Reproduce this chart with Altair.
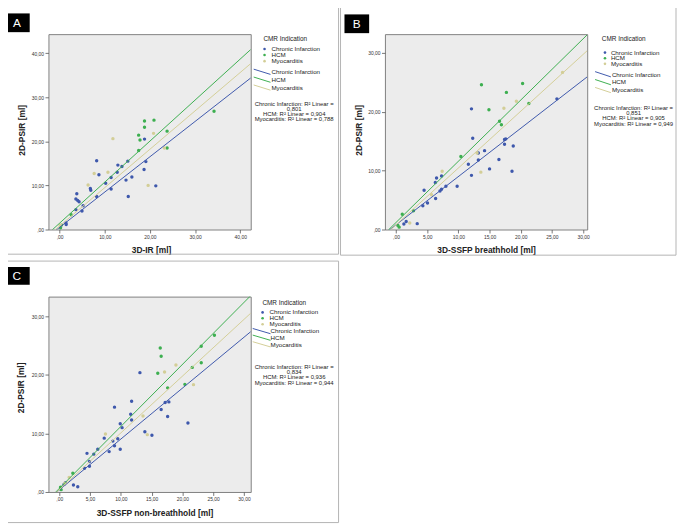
import altair as alt
import pandas as pd

FONT = "Liberation Sans"
GROUPS = ["Chronic Infarction", "HCM", "Myocarditis"]
COLORS = ["#3E58AC", "#3DAF50", "#D3CE97"]

# ---------------- Panel A : 3D-IR ----------------
a_ci_x = [8.2, 8.7, 12.9, 13.8, 15.1, 18.8, 19.1, 18.7, 21.3, 16.0, 14.7, 15.2, 12.75, 11.4, 11.4,
          10.2, 8.2, 6.8, 6.9, 3.8, 3.6, 4.0, 4.3, 4.95, 5.2, 3.6, 1.4, 1.45]
a_ci_y = [15.6, 12.4, 14.6, 14.3, 15.5, 20.5, 15.4, 13.6, 9.9, 11.9, 11.2, 7.5, 13.0, 11.8, 9.2,
          10.5, 7.5, 9.3, 8.9, 8.1, 6.9, 6.6, 6.3, 4.2, 5.4, 4.5, 1.5, 1.15]
a_hcm_x = [18.8, 20.9, 18.8, 17.5, 17.8, 17.5, 23.8, 23.8, 34.2, 2.55, 0.4, 0.2]
a_hcm_y = [24.6, 24.8, 23.2, 21.4, 20.3, 17.9, 22.3, 18.5, 26.8, 3.35, 1.0, 0.4]
a_myo_x = [11.8, 20.8, 7.65, 10.7, 6.3, 19.6, 23.2, 0.1]
a_myo_y = [20.6, 21.8, 12.7, 13.0, 10.1, 10.0, 18.5, 1.0]
a_slope = [0.80, 0.93, 0.87]
a_inter = [0.5, 1.45, 0.8]
a_r2 = ["0,801", "0,904", "0,788"]

# ---------------- Panel B : 3D-SSFP breathhold ----------------
b_ci_x = [12.1, 12.3, 14.2, 13.2, 13.2, 11.6, 12.1, 15.0, 16.5, 17.4, 17.6, 17.4, 18.8, 18.6, 25.8,
          9.8, 8.0, 7.3, 7.05, 7.3, 6.5, 6.3, 6.35, 5.05, 4.3, 4.5, 3.4, 1.63, 1.26]
b_ci_y = [20.5, 15.5, 13.4, 13.0, 11.8, 11.1, 9.2, 10.3, 11.9, 15.3, 15.4, 14.5, 14.2, 9.9, 22.2,
          7.35, 7.35, 6.85, 6.55, 9.1, 8.75, 8.0, 5.27, 4.5, 4.05, 6.67, 1.0, 1.35, 0.95]
b_hcm_x = [13.7, 17.7, 14.9, 16.6, 16.9, 10.4, 20.3, 21.3, 2.8, 1.0, 0.5, 0.3]
b_hcm_y = [24.6, 23.3, 20.35, 18.4, 17.8, 12.4, 24.8, 21.4, 3.2, 2.6, 0.4, 0.7]
b_myo_x = [17.3, 19.3, 13.6, 7.4, 13.0, 5.7, 26.7, 2.2]
b_myo_y = [20.6, 21.8, 9.75, 9.9, 13.0, 5.9, 26.7, 1.1]
b_slope = [0.82, 1.04, 0.965]
b_inter = [0.8, 1.2, 0.8]
b_r2 = ["0,851", "0,905", "0,949"]

# ---------------- Panel C : 3D-SSFP non-breathhold ----------------
c_ci_x = [13.1, 8.97, 11.75, 11.6, 11.75, 9.9, 10.2, 13.9, 15.05, 16.55, 17.2, 17.8, 17.6, 20.9,
          7.3, 8.7, 9.5, 8.97, 8.1, 9.9, 6.25, 5.6, 4.5, 4.9, 4.9, 4.1, 2.3, 3.0, 1.0, 0.76]
c_ci_y = [20.4, 14.5, 15.5, 13.3, 12.3, 11.65, 11.0, 10.3, 9.7, 14.1, 15.3, 15.4, 12.9, 11.8,
          9.2, 8.7, 9.1, 7.9, 6.9, 7.3, 7.3, 6.47, 6.6, 5.2, 4.4, 4.05, 1.2, 0.9, 1.6, 1.3]
c_hcm_x = [16.4, 16.55, 16.0, 17.6, 23.06, 23.06, 21.6, 25.2, 20.4, 2.2, 0.3, 0.2]
c_hcm_y = [24.6, 23.2, 20.3, 17.8, 24.9, 22.1, 21.3, 26.8, 18.4, 3.2, 0.4, 0.8]
c_myo_x = [17.1, 18.95, 21.8, 13.6, 14.3, 7.5, 1.6, 0.9]
c_myo_y = [20.5, 21.7, 18.35, 13.0, 9.8, 9.9, 2.5, 1.5]
c_slope = [0.87, 1.06, 0.97]
c_inter = [0.35, 0.6, 0.4]
c_r2 = ["0,834", "0,936", "0,944"]

W, H = 205, 198
DUMMY = pd.DataFrame({"k": [0]})
LEXPR = "datum.value == 0 ? ',00' : replace(format(datum.value, '.2f'), '.', ',')"


def pts_df(cx, cy, hx, hy, mx, my):
    rows = []
    for g, xs, ys in zip(GROUPS, (cx, hx, mx), (cy, hy, my)):
        rows += [{"x": x, "y": y, "group": g} for x, y in zip(xs, ys)]
    return pd.DataFrame(rows)


def fit_df(slopes, inters, xdom):
    rows = []
    for g, b, a in zip(GROUPS, slopes, inters):
        for x in xdom:
            rows.append({"x": x, "y": a + b * x, "group": g})
    return pd.DataFrame(rows)


def txt(s, x, y, size, align="left", color="#222222", weight="normal"):
    return alt.Chart(DUMMY).mark_text(
        text=s, align=align, baseline="middle", fontSize=size, color=color,
        fontWeight=weight, font=FONT
    ).encode(x=alt.value(x), y=alt.value(y))


def rect(x, x2, y, y2, **kw):
    return alt.Chart(DUMMY).mark_rect(**kw).encode(
        x=alt.value(x), x2=alt.value(x2), y=alt.value(y), y2=alt.value(y2))


def dot(x, y, color):
    return alt.Chart(DUMMY).mark_circle(size=7, color=color, opacity=1).encode(
        x=alt.value(x), y=alt.value(y))


def seg(x1, y1, x2, y2, color):
    return alt.Chart(DUMMY).mark_rule(color=color, strokeWidth=1).encode(
        x=alt.value(x1), y=alt.value(y1), x2=alt.value(x2), y2=alt.value(y2))


def make_axis(title, values, tx, ty):
    return alt.Axis(
        title=title, values=values, grid=False, domain=False, labelExpr=LEXPR,
        labelFontSize=5, labelColor="#333333", labelFont=FONT, labelOverlap=False,
        labelFlush=False, labelPadding=1.5, tickSize=3.5, tickColor="#555555", tickWidth=0.8,
        titleFont=FONT, titleFontSize=8.5, titleFontWeight="bold", titleColor="#222222",
        titleX=tx, titleY=ty, titleBaseline="middle", titleAlign="center",
    )


def panel(pts, fit, xdom, ydom, xticks, yticks, xtitle, ytitle, xt, yt,
          box, lab, letter, leg, r2):
    xs = alt.Scale(domain=xdom, nice=False, zero=False)
    ys = alt.Scale(domain=ydom, nice=False, zero=False)
    xax = make_axis(xtitle, xticks, xt[0], xt[1])
    yax = make_axis(ytitle, yticks, yt[0], yt[1])
    color = alt.Color("group:N", scale=alt.Scale(domain=GROUPS, range=COLORS), legend=None)
    points = alt.Chart(pts).mark_circle(size=12, opacity=1).encode(
        x=alt.X("x:Q", scale=xs, axis=xax), y=alt.Y("y:Q", scale=ys, axis=yax), color=color)
    lines = alt.Chart(fit).mark_line(strokeWidth=1, clip=True).encode(
        x=alt.X("x:Q", scale=xs, axis=xax), y=alt.Y("y:Q", scale=ys, axis=yax),
        color=color, detail="group:N")
    layers = [rect(*box, fillOpacity=0, stroke="#b4b4b4", strokeWidth=1), points, lines,
              rect(*lab, color="#000000"),
              txt(letter, (lab[0] + lab[1]) / 2, (lab[2] + lab[3]) / 2 + 0.5, 12,
                  align="center", color="#ffffff")]
    # legend
    tx, ty = leg["title"]
    layers.append(txt("CMR Indication", tx, ty, 6.5, align="center"))
    for g, c, ry in zip(GROUPS, COLORS, leg["prow"]):
        layers.append(dot(leg["dotx"], ry, c))
        layers.append(txt(g, leg["labx"], ry, 6.3))
    for g, c, ry in zip(GROUPS, COLORS, leg["lrow"]):
        layers.append(seg(leg["lx"][0], ry - 3, leg["lx"][1], ry + 2.3, c))
        layers.append(txt(g, leg["labx2"], ry, 6.3))
    r2_lines = ["Chronic Infarction: R\u00b2 Linear =", r2[0],
                "HCM: R\u00b2 Linear = " + r2[1], "Myocarditis: R\u00b2 Linear = " + r2[2]]
    for s, ry in zip(r2_lines, leg["r2row"]):
        layers.append(txt(s, leg["r2x"], ry, 6.0, align="center"))
    return alt.layer(*layers).properties(width=W, height=H)


a_xdom, a_ydom = [-2.48, 42.33], [0, 44.3]
b_xdom, b_ydom = [-1.78, 30.66], [0, 33.2]
c_xdom, c_ydom = [-1.76, 31.1], [0, 33.4]

A = panel(pts_df(a_ci_x, a_ci_y, a_hcm_x, a_hcm_y, a_myo_x, a_myo_y),
          fit_df(a_slope, a_inter, a_xdom), a_xdom, a_ydom,
          [0, 10, 20, 30, 40], [0, 10, 20, 30, 40], "3D-IR [ml]", "2D-PSIR [ml]",
          (W / 2 + 1.5, 20), (-27.5, 97),
          (-46, W + 89, -28, H + 25), (-45, -19, -21, -2), "A",
          {"title": (240, 5), "dotx": 219, "labx": 226, "prow": [15, 21.2, 27.4],
           "lx": (208, 225), "labx2": 226, "lrow": [38.5, 46.5, 54.5],
           "r2x": 249, "r2row": [71, 76, 81, 86]}, a_r2)

B = panel(pts_df(b_ci_x, b_ci_y, b_hcm_x, b_hcm_y, b_myo_x, b_myo_y),
          fit_df(b_slope, b_inter, b_xdom), b_xdom, b_ydom,
          [0, 5, 10, 15, 20, 25, 30], [0, 10, 20, 30], "3D-SSFP breathhold [ml]", "2D-PSIR [ml]",
          (W / 2, 20), (-26.3, 97),
          (-45, W + 90, -27, H + 26), (-41, -16, -20, -1), "B",
          {"title": (242, 5.3), "dotx": 223, "labx": 229, "prow": [18.7, 24.4, 30.1],
           "lx": (213, 229), "labx2": 230, "lrow": [41, 49, 57],
           "r2x": 252, "r2row": [75, 80.2, 85.4, 90.6]}, b_r2)

C = panel(pts_df(c_ci_x, c_ci_y, c_hcm_x, c_hcm_y, c_myo_x, c_myo_y),
          fit_df(c_slope, c_inter, c_xdom), c_xdom, c_ydom,
          [0, 5, 10, 15, 20, 25, 30], [0, 10, 20, 30], "3D-SSFP non-breathhold [ml]", "2D-PSIR [ml]",
          (W / 2 + 5, 20.7), (-28.3, 92),
          (-46, W + 89, -36, H + 31), (-45, -19, -30, -12), "C",
          {"title": (239, 7), "dotx": 217, "labx": 224, "prow": [16, 22, 28],
           "lx": (207, 225), "labx2": 225, "lrow": [35.3, 42, 48.7],
           "r2x": 249, "r2row": [71, 76.5, 82, 87.5]}, c_r2)

top = alt.hconcat(A, B, spacing=0)
chart = alt.vconcat(top, C, spacing=4).properties(
    padding={"left": -6, "top": -6, "right": 0, "bottom": 0}, background="white"
).configure_view(stroke="#808080", strokeWidth=1, fill="#ececec")

chart.save("out.html", embed_options={"renderer": "svg", "actions": False})
